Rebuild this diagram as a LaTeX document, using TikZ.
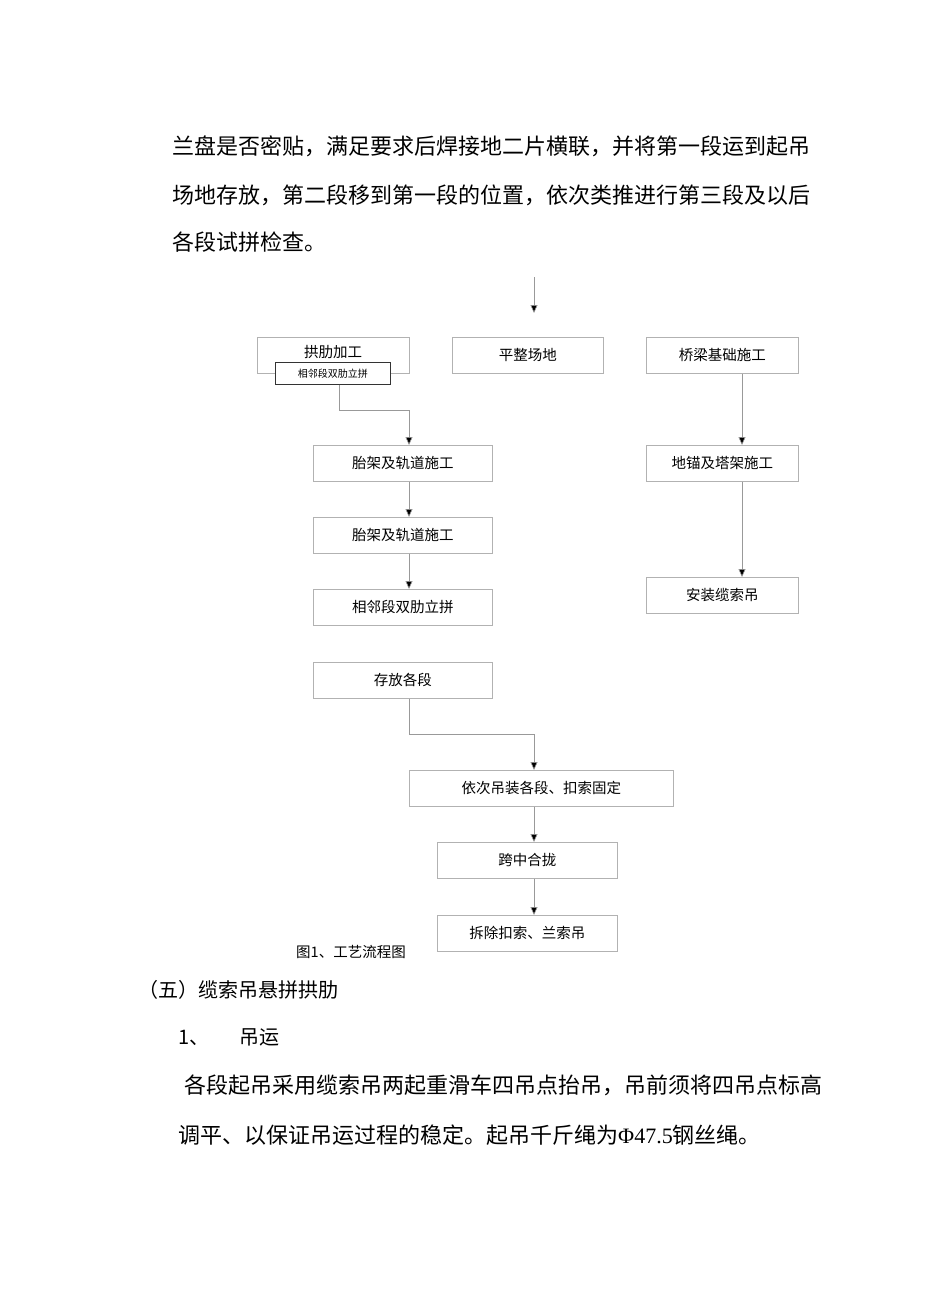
\documentclass[tikz,border=0pt]{standalone}
\usepackage{fontspec}
\setmainfont{Liberation Serif}
\newfontfamily\cjk{Noto Sans CJK SC}
\usetikzlibrary{arrows.meta}
\begin{document}
\begin{tikzpicture}[x=1pt,y=-1pt,
  box/.style={draw=black!30,line width=0.6pt,minimum height=36pt,inner sep=0pt,font=\cjk\fontsize{14.5}{16}\selectfont,anchor=north west},
  ln/.style={draw=black!40,line width=0.6pt},
  arr/.style={ln,-{Triangle[fill=black,length=8pt,width=7pt]}},
  body/.style={anchor=west,inner sep=0pt,font=\cjk\fontsize{22}{26}\selectfont}]
\useasboundingbox[fill=white] (0,0) rectangle (950,1301);
\node[body] (t1) at (172,146) {兰盘是否密贴，满足要求后焊接地二片横联，并将第一段运到起吊};
\node[body] (t2) at (172,195) {场地存放，第二段移到第一段的位置，依次类推进行第三段及以后};
\node[body] (t3) at (172,242) {各段试拼检查。};
\coordinate (top) at (534,277);
\coordinate (topend) at (534,313);
\draw[arr] (top) -- (topend);
\node[box,minimum width=152pt] (a) at (257,337) {};
\node[font=\cjk\fontsize{14.5}{16}\selectfont] (at) at (333,352) {拱肋加工};
\node[draw=black!80,line width=0.6pt,minimum width=115pt,minimum height=22pt,inner sep=0pt,fill=white,anchor=north west,font=\cjk\fontsize{10}{12}\selectfont] (s) at (275,362) {相邻段双肋立拼};
\node[box,minimum width=151pt] (b) at (452,337) {平整场地};
\node[box,minimum width=152pt] (c) at (646,337) {桥梁基础施工};
\node[box,minimum width=179pt] (d1) at (313,445) {胎架及轨道施工};
\node[box,minimum width=152pt] (e1) at (646,445) {地锚及塔架施工};
\node[box,minimum width=179pt] (d2) at (313,517) {胎架及轨道施工};
\node[box,minimum width=179pt] (d3) at (313,589) {相邻段双肋立拼};
\node[box,minimum width=152pt] (e2) at (646,577) {安装缆索吊};
\node[box,minimum width=179pt] (d4) at (313,662) {存放各段};
\node[box,minimum width=264pt] (f1) at (409,770) {依次吊装各段、扣索固定};
\node[box,minimum width=180pt] (f2) at (437,842) {跨中合拢};
\node[box,minimum width=180pt] (f3) at (437,915) {拆除扣索、兰索吊};
\node[anchor=west,inner sep=0pt,font=\cjk\fontsize{14.5}{16}\selectfont] (cap) at (296,952) {图1、工艺流程图};
\draw[arr] (s.south -| 339,0) |- (409,410) -- (d1.north -| 409,0);
\draw[arr] (d1.south -| 409,0) -- (d2.north -| 409,0);
\draw[arr] (d2.south -| 409,0) -- (d3.north -| 409,0);
\draw[arr] (c.south -| 742,0) -- (e1.north -| 742,0);
\draw[arr] (e1.south -| 742,0) -- (e2.north -| 742,0);
\draw[arr] (d4.south -| 409,0) |- (534,734) -- (f1.north -| 534,0);
\draw[arr] (f1.south -| 534,0) -- (f2.north -| 534,0);
\draw[arr] (f2.south -| 534,0) -- (f3.north -| 534,0);
\node[body,font=\cjk\fontsize{20}{24}\selectfont] (h5) at (138,990) {（五）缆索吊悬拼拱肋};
\node[body,font=\cjk\fontsize{20}{24}\selectfont] (h1) at (178,1037) {1、\hspace{30pt}吊运};
\node[body] (p1) at (184,1085) {各段起吊采用缆索吊两起重滑车四吊点抬吊，吊前须将四吊点标高};
\node[body] (p2) at (178,1135) {调平、以保证吊运过程的稳定。起吊千斤绳为{\rmfamily Φ47.5}钢丝绳。};
\end{tikzpicture}
\end{document}
